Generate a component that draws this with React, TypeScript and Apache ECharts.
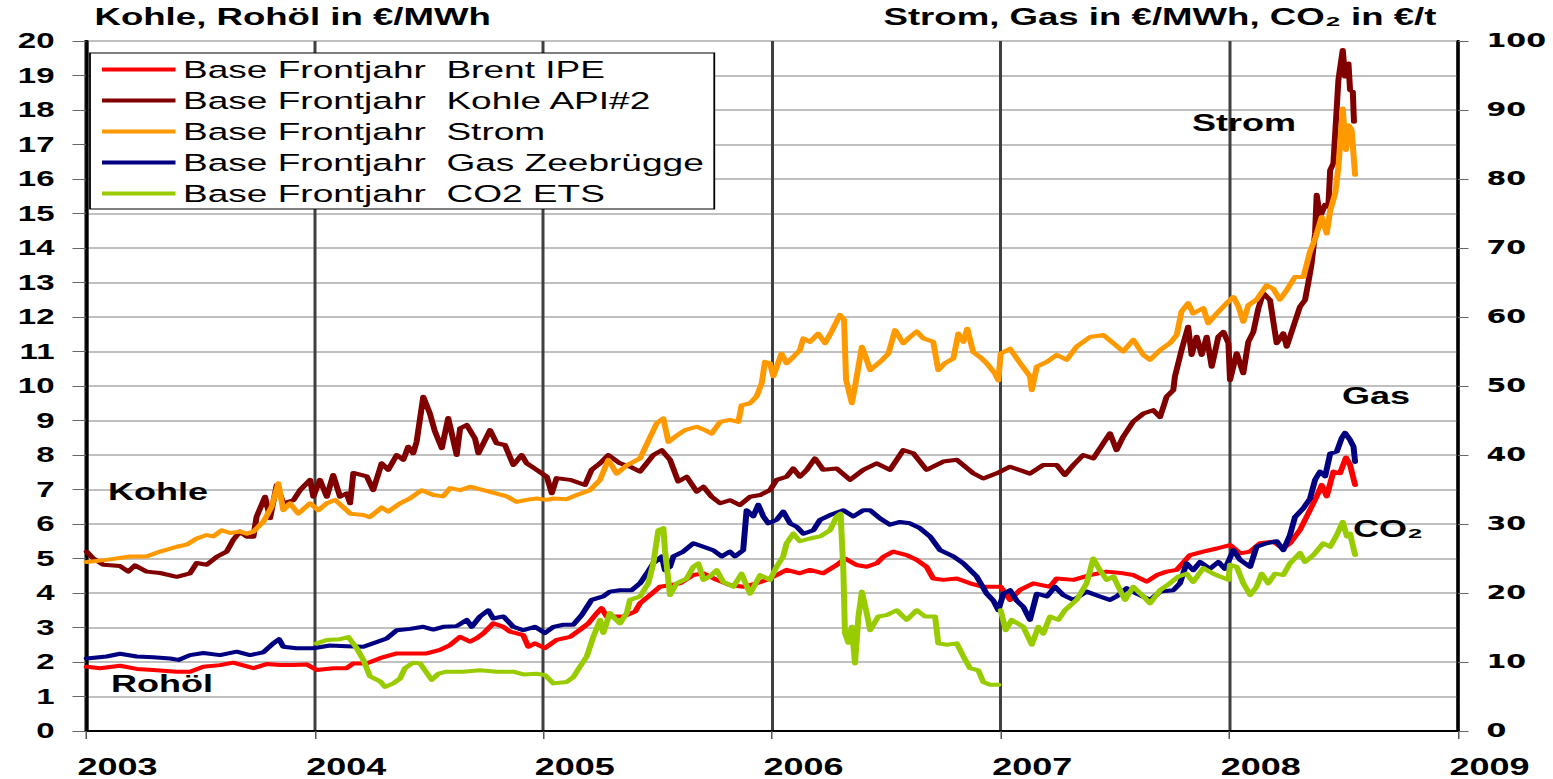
import React, { useEffect, useRef } from "react";
import * as echarts from "echarts";

// The reference picture is stretched horizontally by 1.5; the chart is drawn
// at 1/1.5 of the width and stretched back with a CSS transform.
const SCALE_X = 1.5;
const FULL_W = 1553;
const FULL_H = 779;
const W = FULL_W / SCALE_X;

const leftTitle = "Kohle, Rohöl in €/MWh";
const rightTitle = "Strom, Gas in €/MWh, CO₂ in €/t";
const seriesNames = [
  "Base Frontjahr  Brent IPE",
  "Base Frontjahr  Kohle API#2",
  "Base Frontjahr  Strom",
  "Base Frontjahr  Gas Zeebrügge",
  "Base Frontjahr  CO2 ETS",
];
const seriesColors = ["#FF0000", "#800000", "#FF9900", "#000080", "#99CC00"];
const annotations = ["Kohle", "Rohöl", "Strom", "Gas", "CO₂"];

// Brent IPE, left axis (€/MWh)
const brent: [number, number][] = [
  [2003.003, 1.86], [2003.061, 1.82], [2003.149, 1.89], [2003.222, 1.8], [2003.294, 1.77],
  [2003.397, 1.72], [2003.455, 1.72], [2003.513, 1.86], [2003.586, 1.91], [2003.644, 1.98],
  [2003.732, 1.82], [2003.79, 1.94], [2003.848, 1.91], [2003.907, 1.91], [2003.965, 1.93],
  [2004.009, 1.77], [2004.081, 1.82], [2004.14, 1.82], [2004.169, 1.96], [2004.228, 1.96],
  [2004.286, 2.11], [2004.359, 2.25], [2004.431, 2.25], [2004.49, 2.25], [2004.548, 2.35],
  [2004.592, 2.49], [2004.636, 2.73], [2004.679, 2.59], [2004.709, 2.69], [2004.738, 2.83],
  [2004.781, 3.12], [2004.825, 3.02], [2004.854, 2.88], [2004.884, 2.83], [2004.912, 2.78],
  [2004.934, 2.44], [2004.963, 2.54], [2005.007, 2.4], [2005.058, 2.64], [2005.117, 2.73],
  [2005.16, 2.93], [2005.197, 3.12], [2005.233, 3.41], [2005.255, 3.56], [2005.277, 3.32],
  [2005.35, 3.32], [2005.401, 3.46], [2005.423, 3.7], [2005.467, 3.94], [2005.51, 4.18],
  [2005.554, 4.23], [2005.598, 4.28], [2005.656, 4.52], [2005.7, 4.57], [2005.758, 4.38],
  [2005.816, 4.23], [2005.874, 4.18], [2005.933, 4.28], [2005.991, 4.42], [2006.064, 4.67],
  [2006.122, 4.57], [2006.166, 4.67], [2006.224, 4.57], [2006.283, 4.81], [2006.319, 5.0],
  [2006.37, 4.81], [2006.414, 4.76], [2006.458, 4.86], [2006.487, 5.05], [2006.53, 5.2],
  [2006.589, 5.1], [2006.633, 4.96], [2006.676, 4.76], [2006.705, 4.42], [2006.749, 4.38],
  [2006.808, 4.42], [2006.866, 4.28], [2006.924, 4.18], [2006.983, 4.18], [2007.0, 4.18],
  [2007.041, 3.8], [2007.085, 4.09], [2007.143, 4.28], [2007.216, 4.18], [2007.245, 4.42],
  [2007.318, 4.38], [2007.391, 4.52], [2007.464, 4.62], [2007.536, 4.57], [2007.58, 4.52],
  [2007.639, 4.33], [2007.683, 4.52], [2007.726, 4.62], [2007.77, 4.67], [2007.828, 5.1],
  [2007.886, 5.2], [2007.945, 5.29], [2008.003, 5.39], [2008.047, 5.15], [2008.091, 5.2],
  [2008.134, 5.44], [2008.192, 5.49], [2008.236, 5.29], [2008.265, 5.44], [2008.309, 5.83],
  [2008.353, 6.41], [2008.382, 6.8], [2008.404, 7.13], [2008.426, 6.8], [2008.455, 7.52],
  [2008.484, 7.47], [2008.51, 7.93], [2008.528, 7.71], [2008.55, 7.13],
];

// Kohle API#2, left axis (€/MWh)
const kohle: [number, number][] = [
  [2003.003, 5.2], [2003.032, 5.0], [2003.076, 4.82], [2003.149, 4.78], [2003.185, 4.62],
  [2003.214, 4.8], [2003.265, 4.62], [2003.324, 4.58], [2003.397, 4.47], [2003.455, 4.57],
  [2003.484, 4.87], [2003.528, 4.82], [2003.572, 5.05], [2003.615, 5.2], [2003.644, 5.54],
  [2003.673, 5.78], [2003.703, 5.63], [2003.732, 5.63], [2003.746, 6.21], [2003.783, 6.79],
  [2003.805, 6.17], [2003.834, 7.13], [2003.863, 6.6], [2003.907, 6.69], [2003.936, 6.98],
  [2003.98, 7.28], [2003.994, 6.79], [2004.023, 7.28], [2004.053, 6.79], [2004.081, 7.42],
  [2004.111, 6.79], [2004.14, 6.89], [2004.155, 6.6], [2004.169, 7.48], [2004.228, 7.38],
  [2004.256, 6.98], [2004.293, 7.76], [2004.322, 7.57], [2004.359, 8.0], [2004.388, 7.86],
  [2004.409, 8.24], [2004.431, 8.05], [2004.446, 8.39], [2004.475, 9.69], [2004.504, 9.2],
  [2004.526, 8.68], [2004.556, 8.2], [2004.584, 9.07], [2004.606, 8.44], [2004.621, 8.0],
  [2004.636, 8.77], [2004.665, 8.87], [2004.701, 8.48], [2004.716, 8.05], [2004.767, 8.72],
  [2004.796, 8.34], [2004.832, 8.29], [2004.869, 7.71], [2004.905, 8.0], [2004.927, 7.76],
  [2004.971, 7.57], [2005.015, 7.37], [2005.037, 6.89], [2005.058, 7.33], [2005.117, 7.28],
  [2005.182, 7.13], [2005.211, 7.57], [2005.248, 7.76], [2005.284, 8.0], [2005.335, 7.76],
  [2005.379, 7.66], [2005.423, 7.52], [2005.452, 7.76], [2005.481, 8.0], [2005.518, 8.14],
  [2005.554, 7.86], [2005.59, 7.23], [2005.627, 7.37], [2005.671, 6.94], [2005.7, 7.08],
  [2005.736, 6.79], [2005.773, 6.6], [2005.816, 6.69], [2005.86, 6.55], [2005.904, 6.79],
  [2005.948, 6.84], [2005.991, 6.98], [2006.02, 7.28], [2006.064, 7.37], [2006.093, 7.61],
  [2006.122, 7.37], [2006.152, 7.57], [2006.188, 7.9], [2006.224, 7.57], [2006.283, 7.61],
  [2006.341, 7.28], [2006.399, 7.57], [2006.458, 7.76], [2006.516, 7.57], [2006.574, 8.14],
  [2006.618, 8.05], [2006.676, 7.57], [2006.749, 7.81], [2006.808, 7.86], [2006.88, 7.47],
  [2006.924, 7.32], [2006.983, 7.47], [2007.041, 7.66], [2007.128, 7.46], [2007.186, 7.71],
  [2007.245, 7.71], [2007.281, 7.42], [2007.318, 7.71], [2007.361, 8.0], [2007.405, 7.9],
  [2007.449, 8.34], [2007.478, 8.63], [2007.507, 8.14], [2007.536, 8.53], [2007.58, 8.97],
  [2007.624, 9.2], [2007.667, 9.3], [2007.697, 9.1], [2007.726, 9.69], [2007.755, 9.88],
  [2007.762, 10.27], [2007.791, 11.04], [2007.82, 11.72], [2007.835, 10.9], [2007.857, 11.43],
  [2007.879, 10.9], [2007.901, 11.43], [2007.923, 10.56], [2007.952, 11.43], [2007.974, 11.57],
  [2007.996, 11.24], [2008.003, 10.17], [2008.032, 10.95], [2008.061, 10.37], [2008.083, 11.28],
  [2008.105, 11.57], [2008.127, 12.25], [2008.148, 12.69], [2008.178, 12.49], [2008.207, 11.24],
  [2008.236, 11.53], [2008.251, 11.14], [2008.28, 11.72], [2008.309, 12.3], [2008.331, 12.49],
  [2008.345, 12.98], [2008.36, 13.56], [2008.375, 14.43], [2008.382, 15.54], [2008.397, 14.91],
  [2008.419, 15.25], [2008.433, 15.2], [2008.441, 16.26], [2008.455, 16.45], [2008.463, 17.32],
  [2008.477, 18.87], [2008.496, 19.74], [2008.506, 18.97], [2008.521, 19.35], [2008.528, 18.58],
  [2008.54, 18.53], [2008.545, 17.66],
];

// Strom, right axis (€/MWh)
const strom: [number, number][] = [
  [2003.003, 24.5], [2003.09, 24.8], [2003.192, 25.3], [2003.265, 25.3], [2003.324, 26.0],
  [2003.397, 26.7], [2003.44, 27.0], [2003.484, 27.9], [2003.528, 28.4], [2003.557, 28.2],
  [2003.593, 29.1], [2003.63, 28.7], [2003.673, 28.9], [2003.703, 28.6], [2003.732, 28.9],
  [2003.775, 30.3], [2003.812, 32.5], [2003.841, 35.9], [2003.863, 32.0], [2003.892, 33.0],
  [2003.928, 31.5], [2003.98, 33.0], [2004.016, 32.0], [2004.053, 33.0], [2004.089, 33.5],
  [2004.14, 32.0], [2004.155, 31.5], [2004.213, 31.3], [2004.242, 31.0], [2004.293, 32.4],
  [2004.322, 31.8], [2004.373, 33.0], [2004.417, 33.7], [2004.468, 34.9], [2004.519, 34.2],
  [2004.562, 34.0], [2004.592, 35.2], [2004.636, 34.9], [2004.679, 35.4], [2004.738, 34.9],
  [2004.796, 34.4], [2004.84, 34.0], [2004.884, 33.2], [2004.927, 33.5], [2004.971, 33.7],
  [2005.015, 33.5], [2005.044, 33.7], [2005.102, 33.6], [2005.146, 34.2], [2005.204, 34.9],
  [2005.248, 36.4], [2005.284, 39.3], [2005.321, 37.3], [2005.365, 38.5], [2005.423, 39.5],
  [2005.467, 42.6], [2005.496, 44.6], [2005.525, 45.3], [2005.547, 41.9], [2005.583, 42.8],
  [2005.619, 43.6], [2005.671, 44.1], [2005.707, 43.6], [2005.736, 43.1], [2005.773, 44.8],
  [2005.816, 45.1], [2005.853, 44.8], [2005.867, 47.2], [2005.904, 47.5], [2005.933, 48.5],
  [2005.955, 50.4], [2005.969, 53.5], [2005.991, 53.3], [2006.006, 51.4], [2006.042, 54.7],
  [2006.064, 53.3], [2006.093, 54.2], [2006.122, 55.2], [2006.137, 56.9], [2006.166, 56.4],
  [2006.202, 57.6], [2006.232, 56.2], [2006.261, 57.9], [2006.297, 60.3], [2006.315, 59.6],
  [2006.324, 50.9], [2006.349, 47.5], [2006.363, 49.9], [2006.378, 52.8], [2006.393, 55.7],
  [2006.407, 54.5], [2006.429, 52.3], [2006.473, 53.5], [2006.509, 54.7], [2006.538, 58.1],
  [2006.574, 56.2], [2006.603, 57.1], [2006.633, 57.9], [2006.662, 56.9], [2006.705, 56.4],
  [2006.727, 52.3], [2006.756, 53.3], [2006.793, 54.0], [2006.815, 57.6], [2006.837, 56.4],
  [2006.854, 58.3], [2006.88, 54.9], [2006.91, 54.2], [2006.939, 53.3], [2006.975, 51.8],
  [2006.99, 50.8], [2007.0, 54.7], [2007.041, 55.4], [2007.085, 53.3], [2007.128, 51.4],
  [2007.136, 49.4], [2007.158, 52.8], [2007.202, 53.5], [2007.245, 54.5], [2007.289, 53.8],
  [2007.332, 55.7], [2007.391, 57.1], [2007.449, 57.4], [2007.493, 56.2], [2007.536, 55.0],
  [2007.58, 56.7], [2007.624, 54.5], [2007.653, 53.8], [2007.697, 55.2], [2007.74, 56.2],
  [2007.77, 57.4], [2007.791, 60.8], [2007.82, 62.0], [2007.842, 60.5], [2007.886, 61.3],
  [2007.908, 59.1], [2007.945, 60.5], [2007.988, 62.0], [2008.018, 62.9], [2008.04, 61.5],
  [2008.061, 59.3], [2008.083, 61.7], [2008.119, 62.5], [2008.163, 64.6], [2008.192, 64.1],
  [2008.221, 62.5], [2008.251, 63.9], [2008.287, 65.8], [2008.324, 65.8], [2008.353, 69.5],
  [2008.375, 71.3], [2008.404, 74.5], [2008.426, 72.1], [2008.441, 75.4], [2008.463, 77.9],
  [2008.477, 81.7], [2008.496, 90.2], [2008.51, 84.2], [2008.521, 87.8], [2008.535, 87.1],
  [2008.55, 80.6],
];

// Gas Zeebrügge, right axis (€/MWh)
const gas: [number, number][] = [
  [2003.003, 10.5], [2003.09, 10.8], [2003.149, 11.2], [2003.222, 10.8], [2003.294, 10.7],
  [2003.367, 10.5], [2003.404, 10.3], [2003.455, 11.0], [2003.513, 11.3], [2003.586, 11.0],
  [2003.659, 11.5], [2003.717, 11.0], [2003.775, 11.4], [2003.819, 12.7], [2003.844, 13.3],
  [2003.863, 12.2], [2003.921, 12.0], [2003.994, 12.0], [2004.067, 12.4], [2004.14, 12.3],
  [2004.213, 12.2], [2004.272, 12.9], [2004.315, 13.4], [2004.359, 14.6], [2004.417, 14.8],
  [2004.475, 15.1], [2004.519, 14.7], [2004.562, 15.1], [2004.621, 15.2], [2004.665, 16.1],
  [2004.687, 15.1], [2004.723, 16.6], [2004.759, 17.5], [2004.781, 16.3], [2004.825, 16.6],
  [2004.869, 15.1], [2004.912, 14.6], [2004.963, 15.1], [2005.007, 14.2], [2005.044, 15.1],
  [2005.088, 15.4], [2005.131, 15.4], [2005.168, 16.8], [2005.211, 19.0], [2005.262, 19.5],
  [2005.291, 20.2], [2005.335, 20.4], [2005.386, 20.4], [2005.423, 21.4], [2005.452, 22.8],
  [2005.481, 24.3], [2005.518, 25.3], [2005.532, 23.3], [2005.554, 23.8], [2005.569, 25.3],
  [2005.612, 26.0], [2005.656, 27.2], [2005.7, 26.7], [2005.743, 26.2], [2005.78, 25.3],
  [2005.816, 26.0], [2005.838, 25.3], [2005.874, 26.2], [2005.889, 32.0], [2005.918, 31.1],
  [2005.94, 32.8], [2005.962, 31.1], [2005.984, 30.1], [2006.02, 30.6], [2006.049, 31.8],
  [2006.079, 30.1], [2006.108, 29.6], [2006.137, 28.6], [2006.181, 29.1], [2006.21, 30.6],
  [2006.254, 31.3], [2006.312, 32.0], [2006.356, 31.1], [2006.399, 32.0], [2006.429, 32.0],
  [2006.473, 30.8], [2006.516, 29.9], [2006.56, 30.3], [2006.603, 30.1], [2006.647, 29.4],
  [2006.691, 28.2], [2006.735, 26.2], [2006.793, 25.3], [2006.837, 24.3], [2006.895, 22.4],
  [2006.939, 19.9], [2006.968, 18.9], [2006.99, 17.5], [2007.012, 19.9], [2007.041, 20.4],
  [2007.07, 18.9], [2007.099, 18.0], [2007.128, 16.1], [2007.158, 19.9], [2007.202, 19.5],
  [2007.238, 20.9], [2007.274, 19.7], [2007.318, 19.0], [2007.376, 20.2], [2007.434, 19.5],
  [2007.478, 19.0], [2007.507, 19.5], [2007.551, 20.7], [2007.595, 19.9], [2007.653, 19.0],
  [2007.697, 20.2], [2007.755, 20.4], [2007.784, 21.4], [2007.813, 24.3], [2007.842, 23.3],
  [2007.872, 24.5], [2007.915, 23.5], [2007.952, 24.5], [2007.981, 23.5], [2008.018, 26.2],
  [2008.047, 24.8], [2008.091, 23.8], [2008.119, 26.7], [2008.163, 27.2], [2008.207, 27.5],
  [2008.236, 26.2], [2008.265, 28.4], [2008.287, 31.0], [2008.324, 32.3], [2008.353, 33.7],
  [2008.375, 36.4], [2008.397, 37.6], [2008.419, 36.9], [2008.441, 40.2], [2008.47, 40.5],
  [2008.492, 42.5], [2008.506, 43.2], [2008.528, 42.2], [2008.543, 41.2], [2008.55, 39.0],
];

// CO2 ETS, right axis (€/t); null marks the break at the contract-year change
const co2: [number, number | null][] = [
  [2004.009, 12.7], [2004.053, 13.2], [2004.111, 13.3], [2004.147, 13.6], [2004.184, 12.0],
  [2004.213, 10.3], [2004.242, 7.9], [2004.286, 7.2], [2004.308, 6.4], [2004.344, 6.9],
  [2004.373, 7.6], [2004.395, 9.1], [2004.431, 9.9], [2004.461, 9.8], [2004.482, 8.8],
  [2004.512, 7.4], [2004.541, 8.3], [2004.577, 8.6], [2004.65, 8.6], [2004.723, 8.8],
  [2004.796, 8.6], [2004.869, 8.6], [2004.912, 8.2], [2004.971, 8.3], [2005.007, 8.1],
  [2005.044, 6.9], [2005.102, 7.1], [2005.131, 7.8], [2005.16, 9.3], [2005.19, 10.8],
  [2005.219, 13.7], [2005.248, 16.1], [2005.262, 14.2], [2005.291, 17.1], [2005.313, 16.3],
  [2005.335, 15.6], [2005.365, 17.1], [2005.379, 19.0], [2005.423, 19.5], [2005.459, 21.4],
  [2005.481, 24.3], [2005.503, 29.1], [2005.525, 29.4], [2005.532, 26.2], [2005.554, 19.7],
  [2005.583, 21.4], [2005.627, 22.1], [2005.656, 23.8], [2005.678, 24.3], [2005.7, 21.9],
  [2005.729, 22.4], [2005.758, 23.3], [2005.787, 21.6], [2005.831, 20.9], [2005.867, 22.8],
  [2005.904, 19.9], [2005.948, 22.6], [2005.991, 21.9], [2006.02, 23.8], [2006.049, 25.3],
  [2006.064, 27.2], [2006.093, 28.6], [2006.122, 27.5], [2006.166, 27.9], [2006.21, 28.2],
  [2006.254, 29.1], [2006.283, 31.1], [2006.3, 31.5], [2006.312, 23.3], [2006.319, 14.2],
  [2006.334, 12.8], [2006.349, 15.1], [2006.363, 9.8], [2006.378, 16.6], [2006.393, 20.2],
  [2006.414, 17.1], [2006.429, 14.6], [2006.465, 16.6], [2006.501, 16.8], [2006.545, 17.5],
  [2006.589, 16.1], [2006.633, 17.5], [2006.669, 16.6], [2006.713, 16.6], [2006.727, 12.7],
  [2006.764, 12.5], [2006.808, 12.7], [2006.837, 10.8], [2006.866, 9.1], [2006.902, 8.8],
  [2006.924, 7.1], [2006.954, 6.7], [2006.99, 6.7], [2006.995, null],
  [2007.0, 17.5], [2007.022, 14.6], [2007.048, 16.1], [2007.099, 15.1], [2007.136, 12.5],
  [2007.165, 15.1], [2007.186, 14.1], [2007.216, 16.6], [2007.252, 16.1], [2007.281, 17.5],
  [2007.332, 19.0], [2007.376, 21.4], [2007.405, 25.0], [2007.434, 23.3], [2007.464, 21.9],
  [2007.493, 22.4], [2007.522, 20.4], [2007.544, 19.0], [2007.58, 20.9], [2007.624, 19.5],
  [2007.653, 18.5], [2007.697, 20.4], [2007.74, 21.4], [2007.777, 22.4], [2007.813, 22.8],
  [2007.842, 21.6], [2007.886, 23.6], [2007.93, 22.8], [2007.959, 22.4], [2007.996, 21.9],
  [2008.003, 24.1], [2008.032, 23.8], [2008.061, 21.4], [2008.091, 19.7], [2008.119, 20.9],
  [2008.141, 22.8], [2008.17, 21.4], [2008.2, 22.8], [2008.236, 22.6], [2008.265, 24.3],
  [2008.309, 25.8], [2008.331, 24.5], [2008.368, 25.5], [2008.411, 27.2], [2008.441, 26.7],
  [2008.47, 28.4], [2008.496, 30.3], [2008.514, 28.2], [2008.528, 28.6], [2008.55, 25.5],
];

const seriesData = [brent, kohle, strom, gas, co2];
const seriesAxis = [0, 0, 1, 1, 1];

const FONT = '"Liberation Sans", Arial, sans-serif';

export default function App() {
  const ref = useRef<HTMLDivElement>(null);

  useEffect(() => {
    if (!ref.current) return;
    const chart = echarts.init(ref.current, null, {
      renderer: "svg",
      width: W,
      height: FULL_H,
    });

    const titleStyle = {
      fontFamily: FONT,
      fontSize: 24.4,
      fontWeight: "bold" as const,
      color: "#000",
    };

    const annText = (text: string, x: number, y: number) => ({
      type: "text",
      x,
      y,
      z: 100,
      style: {
        text,
        fill: "#000",
        font: `bold 24px ${FONT}`,
        align: "left",
        verticalAlign: "middle",
      },
    });

    const option: any = {
      animation: false,
      backgroundColor: "#ffffff",
      title: [
        { text: leftTitle, left: 63, top: 5, padding: 0, textStyle: titleStyle },
        { text: rightTitle, left: 589, top: 5, padding: 0, textStyle: titleStyle },
      ],
      legend: {
        orient: "vertical",
        left: 60,
        top: 53,
        padding: [4, 7, 3, 8],
        itemGap: 6,
        itemWidth: 49,
        itemHeight: 4,
        icon: "rect",
        selectedMode: false,
        backgroundColor: "#ffffff",
        borderColor: "#000000",
        borderWidth: 1.2,
        textStyle: {
          fontFamily: FONT,
          fontSize: 24.7,
          lineHeight: 24,
          color: "#000",
        },
        data: seriesNames,
      },
      grid: {
        left: 86 / SCALE_X,
        right: W - 1458 / SCALE_X,
        top: 41,
        bottom: FULL_H - 731,
        show: true,
        borderColor: "#000",
        borderWidth: 2,
      },
      xAxis: {
        type: "value",
        min: 2003,
        max: 2009,
        interval: 1,
        axisLine: { show: true, lineStyle: { color: "#000", width: 2 } },
        axisTick: { show: true, length: 8, lineStyle: { color: "#555", width: 1 } },
        axisLabel: {
          formatter: (v: number) => String(v),
          fontFamily: FONT,
          fontSize: 24,
          lineHeight: 24,
          fontWeight: "bold",
          color: "#000",
          margin: 23,
          padding: [0, 0, 0, 42],
          showMaxLabel: true,
          showMinLabel: true,
        },
        splitLine: { show: true, lineStyle: { color: "#404040", width: 2 } },
      },
      yAxis: [
        {
          type: "value",
          min: 0,
          max: 20,
          interval: 1,
          position: "left",
          axisLine: { show: true, lineStyle: { color: "#000", width: 2 } },
          axisTick: { show: true, length: 9, lineStyle: { color: "#666", width: 1 } },
          axisLabel: {
            fontFamily: FONT,
            fontSize: 22,
            fontWeight: "bold",
            color: "#000",
            margin: 21,
          },
          splitLine: { show: true, lineStyle: { color: "#C0C0C0", width: 2 } },
        },
        {
          type: "value",
          min: 0,
          max: 100,
          interval: 10,
          position: "right",
          axisLine: { show: true, lineStyle: { color: "#000", width: 2 } },
          axisTick: { show: true, length: 7, lineStyle: { color: "#666", width: 1 } },
          axisLabel: {
            fontFamily: '"DejaVu Sans", sans-serif',
            fontSize: 19,
            fontWeight: "bold",
            color: "#000",
            margin: 19,
          },
          splitLine: { show: false },
        },
      ],
      series: seriesNames.map((name, i) => ({
        name,
        type: "line",
        yAxisIndex: seriesAxis[i],
        data: seriesData[i],
        showSymbol: false,
        connectNulls: false,
        color: seriesColors[i],
        lineStyle: { color: seriesColors[i], width: 4, join: "round", cap: "round" },
        emphasis: { disabled: true },
        z: 2 + i,
      })),
      graphic: [
        annText(annotations[0], 108 / SCALE_X, 491),
        annText(annotations[1], 111 / SCALE_X, 683),
        annText(annotations[2], 1192 / SCALE_X, 122),
        annText(annotations[3], 1342 / SCALE_X, 395),
        annText(annotations[4], 1353 / SCALE_X, 528),
      ],
    };

    chart.setOption(option);
    return () => {
      chart.dispose();
    };
  }, []);

  return (
    <div
      style={{
        position: "absolute",
        left: 0,
        top: 0,
        width: FULL_W,
        height: FULL_H,
        overflow: "hidden",
        background: "#fff",
      }}
    >
      <div
        ref={ref}
        style={{
          width: W,
          height: FULL_H,
          transform: `scaleX(${SCALE_X})`,
          transformOrigin: "0 0",
        }}
      />
    </div>
  );
}
